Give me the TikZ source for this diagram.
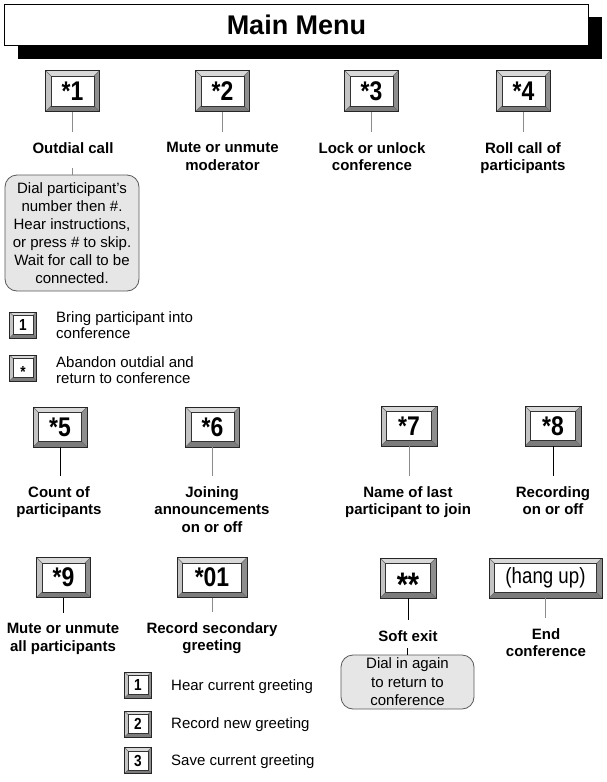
\documentclass[tikz,border=0pt]{standalone}
\usepackage{fontspec}
\setmainfont{Liberation Sans}
\newfontfamily\keyfont[FakeStretch=0.85]{Liberation Sans}
\definecolor{facetop}{HTML}{D8D8D8}
\definecolor{faceleft}{HTML}{C4C4C4}
\definecolor{faceright}{HTML}{8E8E8E}
\definecolor{facebottom}{HTML}{7C7C7C}
\definecolor{notefill}{HTML}{E6E6E6}
\begin{document}
\begin{tikzpicture}[x=1pt,y=-1pt,
  bev/.code={\def\bv{#1}}, bev=5.5pt,
  key/.style={draw=black!85, line width=0.7pt, fill=white, inner sep=0pt, text=black,
    minimum width=54pt, minimum height=41pt,
    font=\keyfont\bfseries\fontsize{27}{27}\selectfont,
    path picture={
      \coordinate (@sw) at (path picture bounding box.south west);
      \coordinate (@ne) at (path picture bounding box.north east);
      \coordinate (@nw) at (path picture bounding box.north west);
      \coordinate (@se) at (path picture bounding box.south east);
      \coordinate (@isw) at ([shift={(\bv,\bv)}]@sw);
      \coordinate (@ine) at ([shift={(-\bv,-\bv)}]@ne);
      \coordinate (@inw) at ([shift={(\bv,-\bv)}]@nw);
      \coordinate (@ise) at ([shift={(-\bv,\bv)}]@se);
      \fill[facetop] (@nw) -- (@ne) -- (@ine) -- (@inw) -- cycle;
      \fill[faceleft] (@nw) -- (@inw) -- (@isw) -- (@sw) -- cycle;
      \fill[faceright] (@ne) -- (@se) -- (@ise) -- (@ine) -- cycle;
      \fill[facebottom] (@sw) -- (@isw) -- (@ise) -- (@se) -- cycle;
      \draw[black!60, line width=0.4pt] (@nw) -- (@inw) (@ne) -- (@ine) (@sw) -- (@isw) (@se) -- (@ise);
      \draw[black!80, line width=0.6pt, fill=white] (@isw) rectangle (@ine);
    }},
  smallkey/.style={key, bev=3.5pt, minimum width=27pt, minimum height=26pt,
    font=\keyfont\bfseries\fontsize{16}{16}\selectfont},
  lbl/.style={font=\bfseries\fontsize{15}{17.5}\selectfont, align=center, inner sep=0pt, anchor=north},
  txt/.style={font=\fontsize{15}{16}\selectfont, align=left, inner sep=0pt, anchor=north west},
  note/.style={draw=black!65, line width=0.8pt, fill=notefill, rounded corners=12pt,
    align=center, inner sep=0pt, font=\fontsize{15}{18}\selectfont},
  con/.style={draw=black!45, line width=0.8pt},
  cond/.style={draw=black, line width=0.8pt}
]
\useasboundingbox (0,0) rectangle (607,782);

% title
\fill[black] (18,17) rectangle (602,59);
\node[draw=black, line width=1.3pt, fill=white, minimum width=584pt, minimum height=41pt,
  inner sep=0pt, font=\bfseries\fontsize{27}{27}\selectfont] (title) at (296.5,25) {Main Menu};

% row 1
\node[key] (k1) at (72.5,91) {*1};
\node[key] (k2) at (222.5,91) {*2};
\node[key] (k3) at (371.5,91) {*3};
\node[key] (k4) at (523.5,91) {*4};
\node[lbl] (l1) at (73,142.2) {Outdial call};
\node[lbl] (l2) at (222.5,142.2) {Mute or unmute\\moderator};
\node[lbl] (l3) at (372,142.2) {Lock or unlock\\conference};
\node[lbl] (l4) at (523,142.2) {Roll call of\\participants};
\draw[con, shorten >=10pt] (k1.south) -- (k1.south |- l1.north);
\draw[con, shorten >=10pt] (k2.south) -- (k2.south |- l2.north);
\draw[con, shorten >=10pt] (k3.south) -- (k3.south |- l3.north);
\draw[con, shorten >=10pt] (k4.south) -- (k4.south |- l4.north);

% outdial note
\node[note, minimum width=134pt, minimum height=116pt] (n1) at (72,233)
  {Dial participant's\\number then \#.\\Hear instructions,\\or press \# to skip.\\Wait for call to be\\connected.};
\draw[con, shorten >=15pt] (n1.north) -- (n1.north |- l1.base);

\node[smallkey] (s1) at (23,325) {1};
\node[smallkey] (s2) at (23,368) {\raisebox{-9pt}[0pt][0pt]{*}};
\node[txt] (t1) at (56,311.3) {Bring participant into\\conference};
\node[txt] (t2) at (56,356.3) {Abandon outdial and\\return to conference};

% row 2
\node[key, minimum height=40pt] (k5) at (60,427) {*5};
\node[key, minimum height=40pt] (k6) at (212.5,427) {*6};
\node[key, minimum height=40pt, minimum width=56pt] (k7) at (409,426) {*7};
\node[key, minimum height=40pt, minimum width=56pt] (k8) at (553,426) {*8};
\node[lbl] (l5) at (59,486.2) {Count of\\participants};
\node[lbl] (l6) at (212,486.2) {Joining\\announcements\\on or off};
\node[lbl] (l7) at (408,486.2) {Name of last\\participant to join};
\node[lbl] (l8) at (553,486.2) {Recording\\on or off};
\draw[cond, shorten >=10pt] (k5.south) -- (k5.south |- l5.north);
\draw[con, shorten >=10pt] (k6.south) -- (k6.south |- l6.north);
\draw[con, shorten >=10pt] (k7.south) -- (k7.south |- l7.north);
\draw[cond, shorten >=10pt] (k8.south) -- (k8.south |- l8.north);

% row 3
\node[key, minimum height=40pt] (k9) at (63.5,577.5) {*9};
\node[key, minimum height=40pt, minimum width=70pt] (k01) at (212,577.5) {*01};
\node[key, minimum height=40pt, minimum width=56pt,
  font=\keyfont\bfseries\fontsize{34}{34}\selectfont] (kss) at (408,578) {\raisebox{-18pt}[0pt][0pt]{**}};
\node[key, minimum height=40pt, minimum width=113pt,
  font=\keyfont\fontsize{22}{22}\selectfont] (khang) at (545.5,578) {(hang up)};
\node[lbl] (l9) at (63,623.2) {Mute or unmute\\all participants};
\node[lbl] (l10) at (212,622.2) {Record secondary\\greeting};
\node[lbl] (l11) at (408,630.2) {Soft exit};
\node[lbl] (l12) at (546,628.2) {End\\conference};
\draw[cond, shorten >=10pt] (k9.south) -- (k9.south |- l9.north);
\draw[con, shorten >=10pt] (k01.south) -- (k01.south |- l10.north);
\draw[cond, shorten >=10pt] (kss.south) -- (kss.south |- l11.north);
\draw[con, shorten >=10pt] (khang.south) -- (khang.south |- l12.north);

% soft exit note
\node[note, minimum width=133pt, minimum height=54pt, font=\fontsize{15}{18.5}\selectfont] (n2) at (407.5,682)
  {Dial in again\\to return to\\conference};
\draw[cond, shorten >=7pt] (n2.north) -- (n2.north |- l11.base);

% greeting options
\node[smallkey] (g1) at (138,685) {1};
\node[smallkey] (g2) at (138,724) {2};
\node[smallkey] (g3) at (138,760.5) {3};
\node[txt] (t3) at (171,679.3) {Hear current greeting};
\node[txt] (t4) at (171,717.3) {Record new greeting};
\node[txt] (t5) at (171,754.3) {Save current greeting};
\end{tikzpicture}
\end{document}
